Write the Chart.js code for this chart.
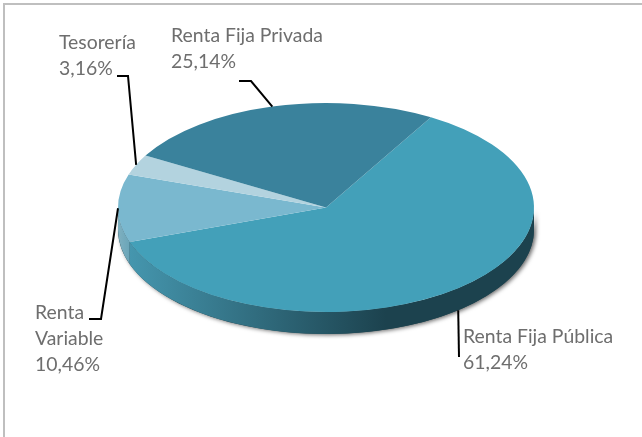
<!DOCTYPE html>
<html>
<head>
<meta charset="utf-8">
<style>html,body{margin:0;padding:0;background:#fff}canvas{display:block}</style>
<script src="https://cdn.jsdelivr.net/npm/chart.js@4"></script>
</head>
<body>
<canvas id="c" width="642" height="437"></canvas>
<script>
const categories = [["Renta Fija Pública"], ["Renta Variable"], ["Tesorería"], ["Renta Fija Privada"]];
const shares = [61.24, 10.46, 3.16, 25.14];
const sliceColors = ["#43A0B9", "#7AB8CF", "#B3D3DF", "#3A829C"];
const wallColors = [["#4596AE", "#1C424E"], ["#7FB0C0", "#6AA5B8"], ["#8FB8C5", "#8FB8C5"], ["#2A6072", "#2A6072"]];

const SQUASH = 0.5024, DEPTH = 22, TOP_CY = 207.5;
const labelText = ["#6E6E6E"];

const labelLayouts = [
  {lines: ["Renta Fija Pública", "61,24%"], x: 463, y: 343, lead: [[459, 357]]},
  {lines: ["Renta", "Variable", "10,46%"], x: 35, y: 319, lead: [[89, 319], [101, 319]]},
  {lines: ["Tesorería", "3,16%"], x: 59, y: 49, lead: [[117, 76], [128, 76]]},
  {lines: ["Renta Fija Privada", "25,14%"], x: 171, y: 42, lead: [[239, 81], [251, 81]]}
];

const pie3d = {
  id: "pie3d",
  beforeDraw(chart) {
    const c = chart.ctx;
    c.save();
    c.strokeStyle = "#BFBFBF";
    c.lineWidth = 2;
    c.beginPath();
    c.moveTo(4, 437); c.lineTo(4, 4); c.lineTo(642, 4);
    c.stroke();
    c.restore();
  },
  beforeDatasetsDraw(chart) {
    const c = chart.ctx, arcs = chart.getDatasetMeta(0).data;
    const cx = arcs[0].x, cy = arcs[0].y, rx = arcs[0].outerRadius, ry = rx * SQUASH;
    const wallPath = (a, b) => {
      c.beginPath();
      c.ellipse(cx, TOP_CY, rx, ry, 0, a, b);
      c.ellipse(cx, TOP_CY + DEPTH, rx, ry, 0, b, a, true);
      c.closePath();
    };
    // soft shadow under the whole wall
    c.save();
    c.shadowColor = "rgba(0,0,0,0.6)";
    c.shadowBlur = 4;
    c.shadowOffsetX = 2;
    c.shadowOffsetY = 1;
    c.fillStyle = "#1C424E";
    wallPath(0, Math.PI);
    c.fill();
    c.restore();
    // wall of each slice facing the viewer
    arcs.forEach((arc, i) => {
      const a = arc.startAngle, b = arc.endAngle;
      for (const k of [0, 2 * Math.PI, -2 * Math.PI]) {
        const s = Math.max(a + k, 0), e = Math.min(b + k, Math.PI);
        if (e > s) {
          const x1 = cx + rx * Math.cos(e), x2 = cx + rx * Math.cos(s);
          const g = c.createLinearGradient(x1, 0, i === 0 ? cx + 60 : x2, 0);
          g.addColorStop(0, wallColors[i][0]);
          g.addColorStop(1, wallColors[i][1]);
          c.fillStyle = g;
          wallPath(s, e);
          c.fill();
        }
      }
    });
    c.save();
    c.translate(cx, TOP_CY);
    c.scale(1, SQUASH);
    c.translate(-cx, -cy);
  },
  afterDatasetsDraw(chart) {
    const c = chart.ctx, arcs = chart.getDatasetMeta(0).data;
    c.restore();
    const cx = arcs[0].x, rx = arcs[0].outerRadius, ry = rx * SQUASH;
    c.save();
    // leader lines, ending on the rim at each slice's mid-angle
    c.strokeStyle = "#000";
    c.lineWidth = 2;
    c.lineJoin = "miter";
    arcs.forEach((arc, i) => {
      const m = (arc.startAngle + arc.endAngle) / 2;
      const ax = cx + rx * Math.cos(m);
      let ay = TOP_CY + ry * Math.sin(m);
      if (Math.sin(m) > 0.05) ay += DEPTH;
      c.beginPath();
      const pts = labelLayouts[i].lead;
      c.moveTo(pts[0][0], pts[0][1]);
      pts.slice(1).forEach(p => c.lineTo(p[0], p[1]));
      c.lineTo(ax, ay);
      c.stroke();
    });
    // labels
    c.fillStyle = labelText[0];
    c.font = "19.4px Lato";
    c.textBaseline = "alphabetic";
    labelLayouts.forEach(l => {
      l.lines.forEach((t, j) => c.fillText(t, l.x, l.y + j * 26));
    });
    c.restore();
  }
};

new Chart(document.getElementById("c"), {
  type: "pie",
  data: {
    labels: categories,
    datasets: [{data: shares, backgroundColor: sliceColors, borderWidth: 0}]
  },
  options: {
    responsive: false,
    animation: false,
    rotation: 30.3,
    layout: {padding: {left: 118, right: 108, top: 10, bottom: 11}},
    plugins: {legend: {display: false}, tooltip: {enabled: false}, title: {display: false}}
  },
  plugins: [pie3d]
});
</script>
</body>
</html>
